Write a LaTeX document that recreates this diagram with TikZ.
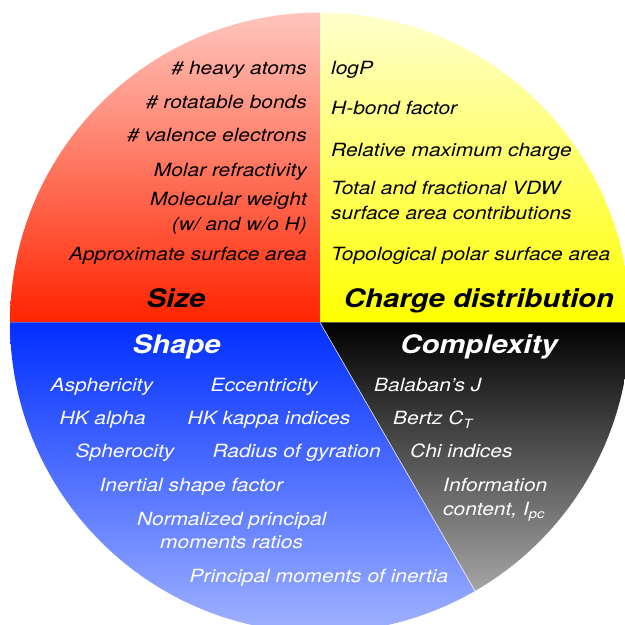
\documentclass[tikz,border=0pt]{standalone}
\usepackage{fontspec}
\setmainfont{TeX Gyre Heros}[FakeStretch=1.15]
\definecolor{redtop}{RGB}{255,198,190}
\definecolor{redbot}{RGB}{255,36,0}
\definecolor{yeltop}{RGB}{255,255,205}
\definecolor{yelbot}{RGB}{255,255,0}
\definecolor{bluetop}{RGB}{0,46,255}
\definecolor{bluebot}{RGB}{160,178,255}
\definecolor{blktop}{RGB}{0,0,0}
\definecolor{blkbot}{RGB}{165,165,165}
\begin{document}
\begin{tikzpicture}[x=1pt,y=1pt,
  body/.style={font=\fontsize{18.2}{20}\selectfont\itshape, inner sep=0pt},
  dark/.style={body, text=black},
  light/.style={body, text=white},
  title/.style={font=\fontsize{25.5}{28}\selectfont\bfseries\itshape, inner sep=0pt, anchor=base},
  sector/.style={draw=none}]
\clip (0,0) rectangle (625,625);
\coordinate (O) at (320,302.5);
\path (O) ++(300:310) coordinate (E);
% sectors
\shade[sector, top color=redtop, bottom color=redbot]
  (O) -- ++(90:310) arc[start angle=90, end angle=180, radius=310] -- cycle;
\shade[sector, top color=yeltop, bottom color=yelbot]
  (O) -- ++(0:310) arc[start angle=0, end angle=90, radius=310] -- cycle;
\shade[sector, top color=bluetop, bottom color=bluebot]
  (O) -- ++(180:310) arc[start angle=180, end angle=300, radius=310] -- cycle;
\shade[sector, top color=blktop, bottom color=blkbot]
  (O) -- (E) arc[start angle=300, end angle=360, radius=310] -- cycle;
\draw[white, line width=0.5pt] (O) -- (E);
% Size
\node[dark, anchor=base east] (s1) at (307,550) {\# heavy atoms};
\node[dark, anchor=base east] (s2) at (307,516.5) {\# rotatable bonds};
\node[dark, anchor=base east] (s3) at (307,483) {\# valence electrons};
\node[dark, anchor=base east] (s4) at (307,448.5) {Molar refractivity};
\node[dark, anchor=base east] (s5) at (307,419) {Molecular weight};
\node[dark, anchor=base east] (s6) at (307,394.5) {(w/ and w/o H)};
\node[dark, anchor=base east] (s7) at (307,364) {Approximate surface area};
\node[title, text=black] (size) at (176,317) {Size};
% Charge distribution
\node[dark, anchor=base west] (c1) at (331,550) {logP};
\node[dark, anchor=base west] (c2) at (331,510) {H-bond factor};
\node[dark, anchor=base west] (c3) at (331,468.5) {Relative maximum charge};
\node[dark, anchor=base west] (c4) at (331,430) {Total and fractional VDW};
\node[dark, anchor=base west] (c5) at (331,405.5) {surface area contributions};
\node[dark, anchor=base west] (c6) at (331,364) {Topological polar surface area};
\node[title, text=black] (charge) at (479,317) {Charge distribution};
% Shape
\node[title, text=white] (shape) at (176.6,271) {Shape};
\node[light, anchor=base] (h1) at (101.8,233) {Asphericity};
\node[light, anchor=base] (h2) at (264.2,233) {Eccentricity};
\node[light, anchor=base] (h3) at (102.6,200) {HK alpha};
\node[light, anchor=base] (h4) at (269,200) {HK kappa indices};
\node[light, anchor=base] (h5) at (125,167) {Spherocity};
\node[light, anchor=base] (h6) at (296.7,167) {Radius of gyration};
\node[light, anchor=base] (h7) at (191.3,133.5) {Inertial shape factor};
\node[light, anchor=base] (h8) at (231.8,99) {Normalized principal};
\node[light, anchor=base] (h9) at (231.6,76.5) {moments ratios};
\node[light, anchor=base] (h10) at (318.9,42) {Principal moments of inertia};
% Complexity
\node[title, text=white] (complexity) at (479,271) {Complexity};
\node[light, anchor=base west] (k1) at (374,233) {Balaban’s J};
\node[light, anchor=base west] (k2) at (393,200) {Bertz C\textsubscript{T}};
\node[light, anchor=base west] (k3) at (410,167) {Chi indices};
\node[light, anchor=base west] (k4) at (443,133.5) {Information};
\node[light, anchor=base west] (k5) at (443,109) {content, I\textsubscript{pc}};
\end{tikzpicture}
\end{document}
